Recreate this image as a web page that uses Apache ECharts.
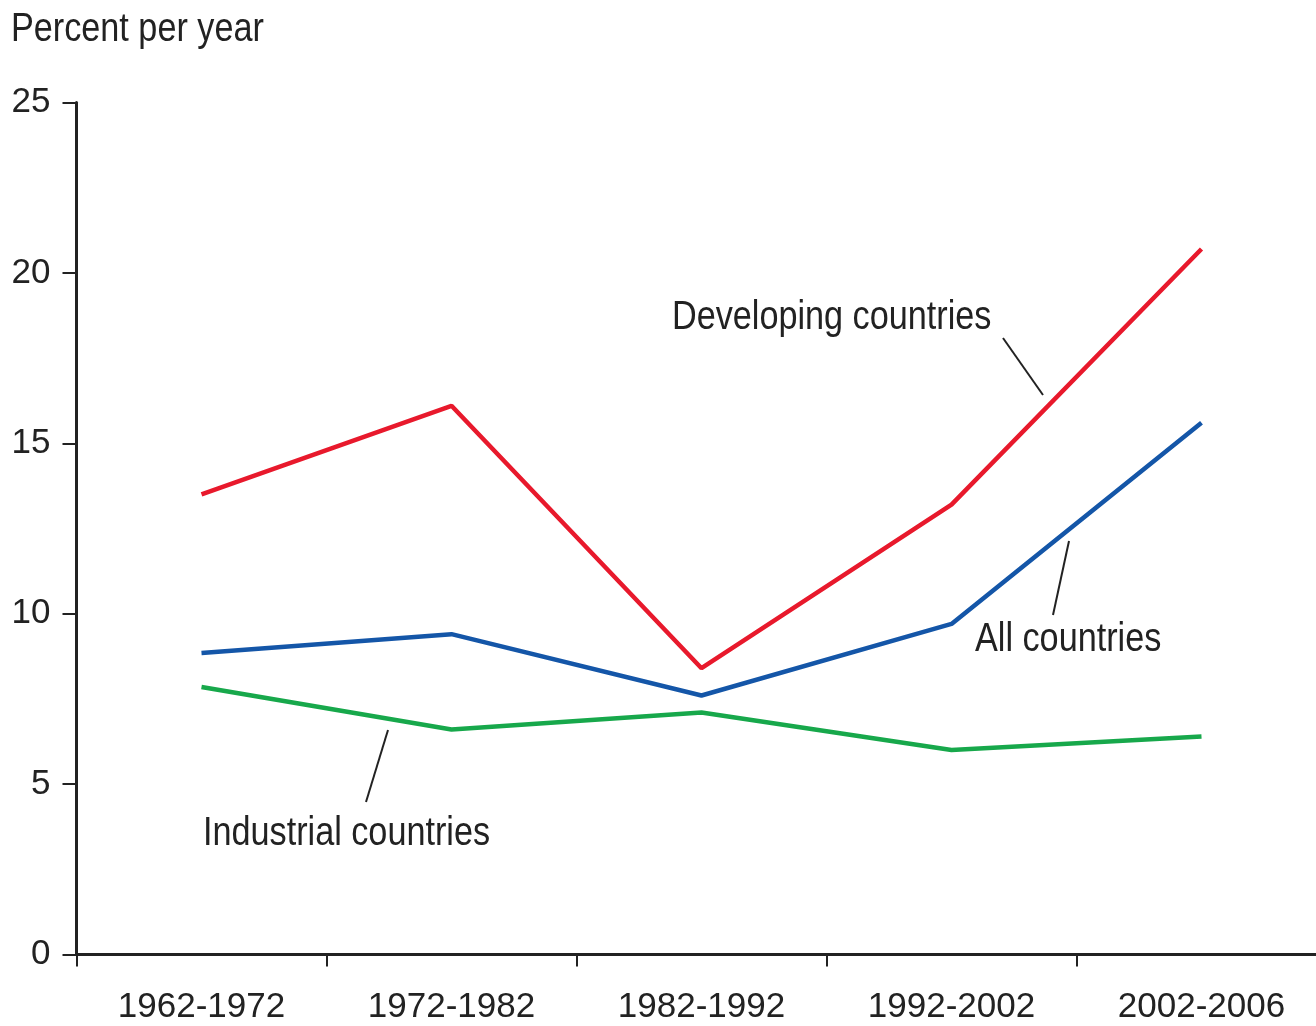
<!DOCTYPE html>
<html>
<head>
<meta charset="utf-8">
<script src="https://cdn.jsdelivr.net/npm/echarts@6/dist/echarts.min.js"></script>
<style>
html,body{margin:0;padding:0;background:#fff;overflow:hidden;}
#chart{width:1330px;height:1026px;}
</style>
</head>
<body>
<div id="chart"></div>
<script>
const categories = ['1962-1972', '1972-1982', '1982-1992', '1992-2002', '2002-2006'];
const developing = [13.5, 16.1, 8.4, 13.2, 20.7];
const allCountries = [8.85, 9.4, 7.6, 9.7, 15.6];
const industrial = [7.85, 6.6, 7.1, 6.0, 6.4];
const yTicks = [0, 5, 10, 15, 20, 25];

const FONT = '"Liberation Sans", Arial, sans-serif';
const TXT = '#222';
const SX = 0.855;

function label(text, x, y) {
  return { type: 'text', x: x, y: y, scaleX: SX, scaleY: 1,
    style: { text: text, fill: TXT, font: '40px ' + FONT, verticalAlign: 'top', align: 'left' } };
}

const chart = echarts.init(document.getElementById('chart'));
chart.setOption({
  animation: false,
  backgroundColor: '#fff',
  grid: { left: 76.5, top: 102.5, width: 1250, height: 852, containLabel: false },
  xAxis: {
    type: 'category',
    data: categories,
    boundaryGap: true,
    axisLine: { lineStyle: { color: TXT, width: 3 } },
    axisTick: { show: true, length: 12, lineStyle: { color: TXT, width: 2 } },
    axisLabel: { color: TXT, fontFamily: FONT, fontSize: 35, margin: 35, interval: 0 },
    splitLine: { show: false }
  },
  yAxis: {
    type: 'value',
    min: yTicks[0],
    max: yTicks[yTicks.length - 1],
    interval: 5,
    axisLine: { show: true, lineStyle: { color: TXT, width: 3 } },
    axisTick: { show: true, length: 14, lineStyle: { color: TXT, width: 2 } },
    axisLabel: { color: TXT, fontFamily: FONT, fontSize: 35, margin: 26 },
    splitLine: { show: false }
  },
  series: [
    { name: 'Developing countries', type: 'line', data: developing, symbol: 'none',
      lineStyle: { color: '#e8192c', width: 4.5 }, z: 3 },
    { name: 'All countries', type: 'line', data: allCountries, symbol: 'none',
      lineStyle: { color: '#1456a8', width: 4.5 }, z: 3 },
    { name: 'Industrial countries', type: 'line', data: industrial, symbol: 'none',
      lineStyle: { color: '#17a84b', width: 4.5 }, z: 3 }
  ],
  graphic: [
    label('Percent per year', 11, 10),
    label('Developing countries', 672, 298),
    { type: 'line', shape: { x1: 1003, y1: 338, x2: 1043, y2: 395 }, style: { stroke: TXT, lineWidth: 2 } },
    label('All countries', 975, 620),
    { type: 'line', shape: { x1: 1069, y1: 541, x2: 1053, y2: 615 }, style: { stroke: TXT, lineWidth: 2 } },
    label('Industrial countries', 203, 814),
    { type: 'line', shape: { x1: 388, y1: 730, x2: 366, y2: 802 }, style: { stroke: TXT, lineWidth: 2 } }
  ]
});
</script>
</body>
</html>
